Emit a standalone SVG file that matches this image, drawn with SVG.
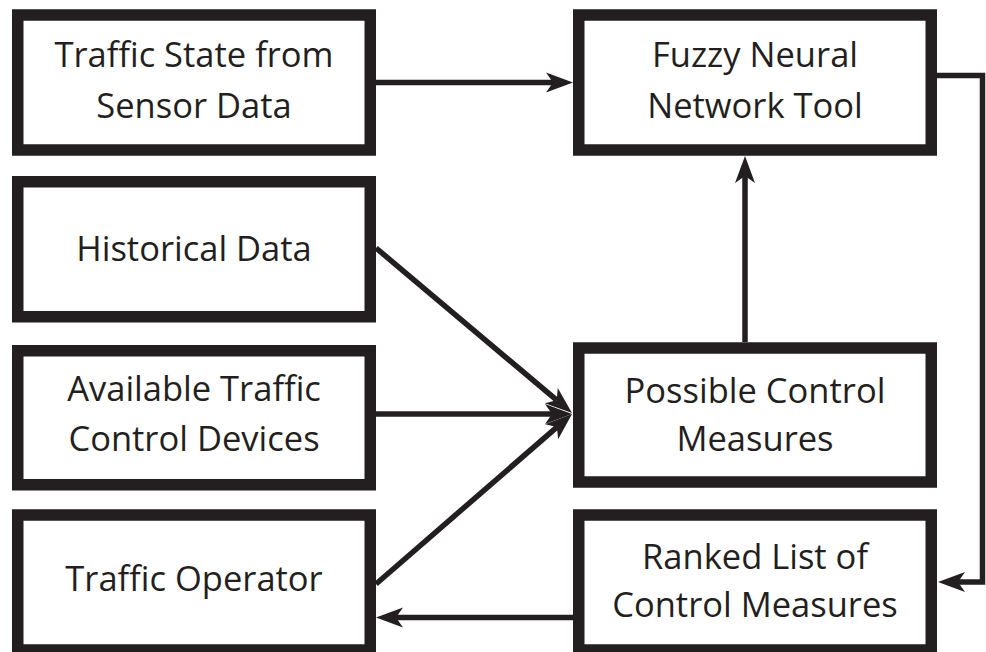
<svg xmlns="http://www.w3.org/2000/svg" width="986" height="652" viewBox="0 0 986 652">
  <style>
    .box { fill: #ffffff; stroke: #231f20; stroke-width: 11.5; stroke-linejoin: miter; }
    .label { font-family: "Open Sans", "Liberation Sans", sans-serif; font-size: 34.5px; fill: #231f20; text-anchor: middle; }
    .wire { fill: none; stroke: #231f20; stroke-width: 5.5; stroke-linejoin: miter; }
  </style>
  <defs>
    <marker id="arrow" markerUnits="userSpaceOnUse" viewBox="0 -11 28 22" refX="7" refY="0" markerWidth="28" markerHeight="22" orient="auto" overflow="visible">
      <path d="M0,-10 L27,0 L0,10 L7,0 Z" fill="#231f20"/>
    </marker>
  </defs>
  <rect width="986" height="652" fill="#ffffff"/>

  <!-- connectors -->
  <g id="connectors">
    <line class="wire" x1="376" y1="82.5" x2="553" y2="82.5" marker-end="url(#arrow)"/>
    <line class="wire" x1="745" y1="342" x2="745" y2="176" marker-end="url(#arrow)"/>
    <line class="wire" x1="376" y1="248" x2="556.7" y2="400.2" marker-end="url(#arrow)"/>
    <line class="wire" x1="376" y1="414" x2="552" y2="414" marker-end="url(#arrow)"/>
    <line class="wire" x1="376" y1="584" x2="556.9" y2="427.1" marker-end="url(#arrow)"/>
    <line class="wire" x1="573" y1="617.5" x2="396" y2="617.5" marker-end="url(#arrow)"/>
    <polyline class="wire" points="937,75.5 982.5,75.5 982.5,582 958,582" marker-end="url(#arrow)"/>
  </g>

  <!-- nodes -->
  <g id="traffic-state">
    <rect class="box" x="17.75" y="15" width="352.5" height="135"/>
    <text class="label" x="194" y="67">Traffic State from</text>
    <text class="label" x="194" y="118">Sensor Data</text>
  </g>
  <g id="historical-data">
    <rect class="box" x="17.75" y="181.75" width="352.5" height="135"/>
    <text class="label" x="194" y="261">Historical Data</text>
  </g>
  <g id="available-devices">
    <rect class="box" x="17.75" y="350.75" width="352.5" height="134"/>
    <text class="label" x="194" y="401">Available Traffic</text>
    <text class="label" x="194" y="451">Control Devices</text>
  </g>
  <g id="traffic-operator">
    <rect class="box" x="17.75" y="515" width="352.5" height="135"/>
    <text class="label" x="194" y="591">Traffic Operator</text>
  </g>
  <g id="fuzzy-neural">
    <rect class="box" x="578.75" y="15" width="352.5" height="135"/>
    <text class="label" x="755" y="67">Fuzzy Neural</text>
    <text class="label" x="755" y="118">Network Tool</text>
  </g>
  <g id="possible-measures">
    <rect class="box" x="578.75" y="348" width="352.5" height="134"/>
    <text class="label" x="755" y="403">Possible Control</text>
    <text class="label" x="755" y="451">Measures</text>
  </g>
  <g id="ranked-list">
    <rect class="box" x="578.75" y="515" width="352.5" height="135"/>
    <text class="label" x="755" y="569">Ranked List of</text>
    <text class="label" x="755" y="617">Control Measures</text>
  </g>
</svg>
